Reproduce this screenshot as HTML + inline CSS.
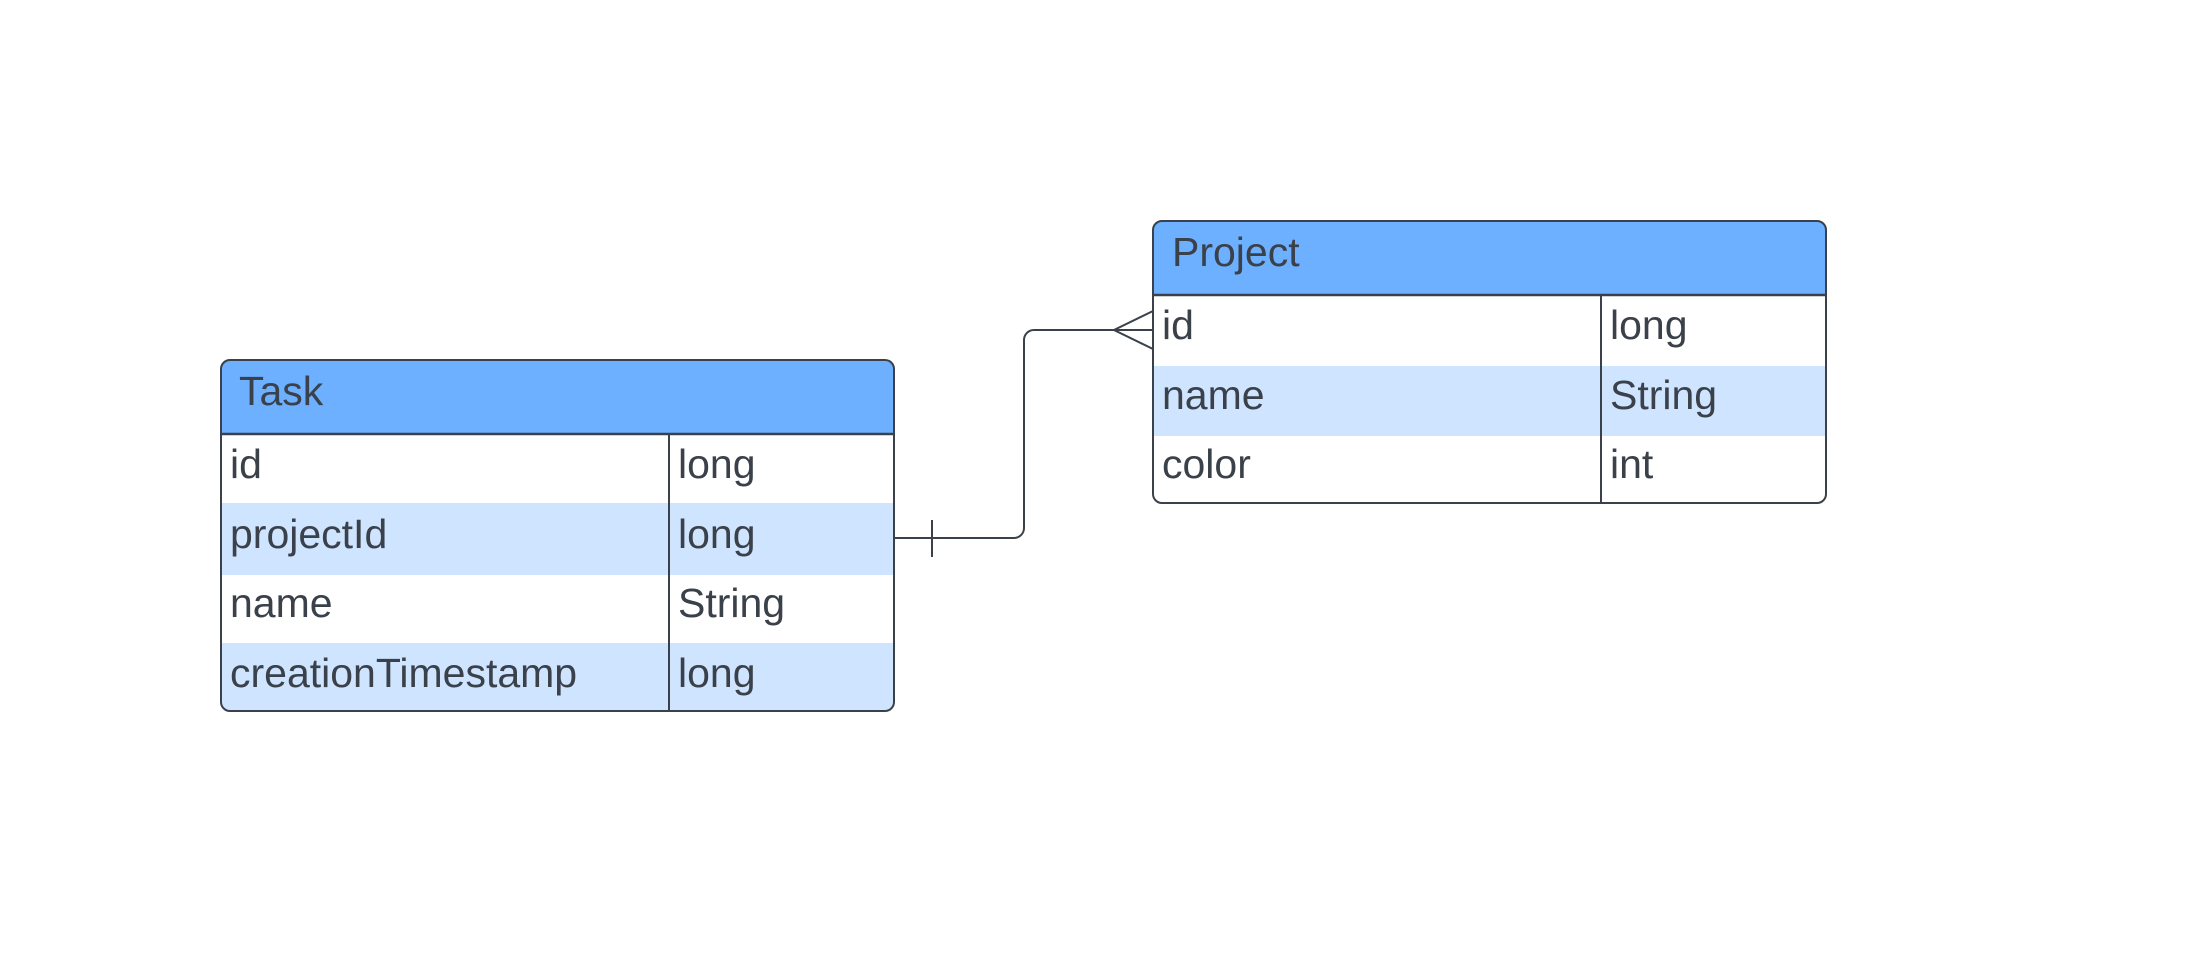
<!DOCTYPE html>
<html><head><meta charset="utf-8"><style>
body{margin:0;background:#fff;width:2205px;height:962px;overflow:hidden;font-family:"Liberation Sans",sans-serif;color:#3a414a}
</style></head><body>
<svg width="2205" height="962" xmlns="http://www.w3.org/2000/svg" style="position:absolute;left:0;top:0">
<g font-family="Liberation Sans, sans-serif" font-size="41" fill="#3a414a">
<!-- Task -->
<rect x="221" y="360" width="673" height="351" rx="9" fill="#fff"/>
<path d="M221 369a9 9 0 0 1 9-9h655a9 9 0 0 1 9 9v65H221z" fill="#6cb0ff"/>
<rect x="221" y="503" width="673" height="72" fill="#cfe4ff"/>
<path d="M221 643h673v59a9 9 0 0 1-9 9H230a9 9 0 0 1-9-9z" fill="#cfe4ff"/>
<rect x="221" y="360" width="673" height="351" rx="9" fill="none" stroke="#3a414a" stroke-width="2"/>
<line x1="221" y1="434" x2="894" y2="434" stroke="#3a414a" stroke-width="2.5"/>
<line x1="669" y1="434" x2="669" y2="711" stroke="#3a414a" stroke-width="2"/>
<text x="239" y="405">Task</text>
<text x="230" y="478">id</text><text x="678" y="478">long</text>
<text x="230" y="548">projectId</text><text x="678" y="548">long</text>
<text x="230" y="617">name</text><text x="678" y="617">String</text>
<text x="230" y="687">creationTimestamp</text><text x="678" y="687">long</text>
<!-- Project -->
<rect x="1153" y="221" width="673" height="282" rx="9" fill="#fff"/>
<path d="M1153 230a9 9 0 0 1 9-9h655a9 9 0 0 1 9 9v65H1153z" fill="#6cb0ff"/>
<rect x="1153" y="366" width="673" height="70" fill="#cfe4ff"/>
<rect x="1153" y="221" width="673" height="282" rx="9" fill="none" stroke="#3a414a" stroke-width="2"/>
<line x1="1153" y1="295" x2="1826" y2="295" stroke="#3a414a" stroke-width="2.5"/>
<line x1="1601" y1="295" x2="1601" y2="503" stroke="#3a414a" stroke-width="2"/>
<text x="1172" y="266">Project</text>
<text x="1162" y="339">id</text><text x="1610" y="339">long</text>
<text x="1162" y="409">name</text><text x="1610" y="409">String</text>
<text x="1162" y="478">color</text><text x="1610" y="478">int</text>
</g>
<!-- connector -->
<g fill="none" stroke="#3a414a" stroke-width="2">
<path d="M894 538H1014a10 10 0 0 0 10-10V340a10 10 0 0 1 10-10H1153"/>
<line x1="932" y1="520" x2="932" y2="557"/>
<path d="M1153 311L1114 330L1153 349"/>
</g>
</svg>
</body></html>
